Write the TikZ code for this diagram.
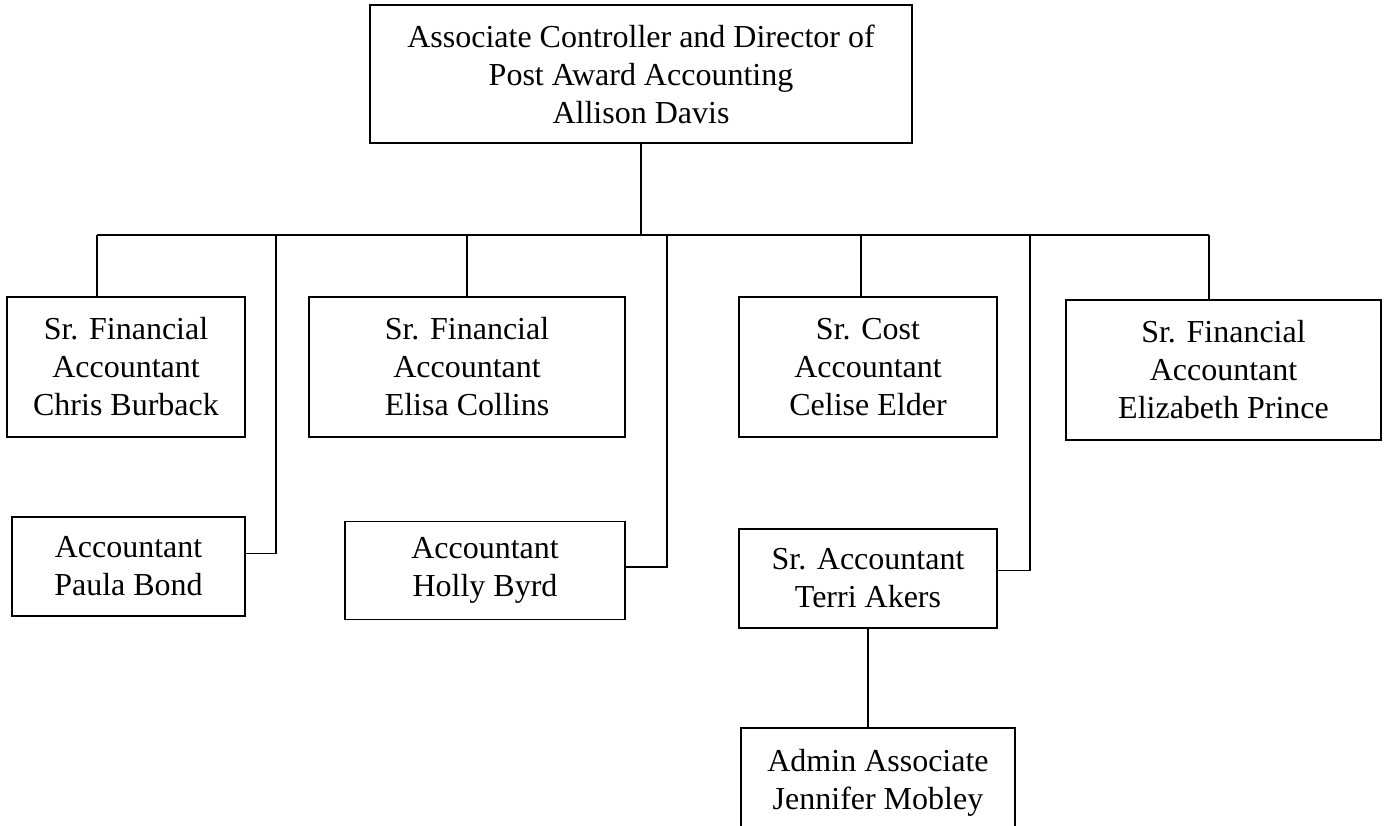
\documentclass[tikz,border=0pt]{standalone}
\usepackage{fontspec}
\setmainfont{Liberation Serif}
\usetikzlibrary{positioning}
\tikzset{
  every node/.style={font=\fontsize{32}{38}\selectfont},
  post/.style={draw, line width=1.2pt, align=center, inner sep=0pt},
  link/.style={line width=1.2pt},
}

\begin{document}
\begin{tikzpicture}[x=1pt, y=-1pt]
    \useasboundingbox (0,0) rectangle (1391,826);

    % boxes
    \node[post, minimum width=542, minimum height=138] (director) at (641,74)
        {Associate Controller and Director of\\Post Award Accounting\\Allison Davis};
    \node[post, minimum width=238, minimum height=140] (burback) at (126,367)
        {Sr. Financial\\Accountant\\Chris Burback};
    \node[post, minimum width=233, minimum height=99] (bond) at (128.5,566.5)
        {Accountant\\Paula Bond};
    \node[post, minimum width=316, minimum height=140] (collins) at (467,367)
        {Sr. Financial\\Accountant\\Elisa Collins};
    \node[post, minimum width=280, minimum height=98] (byrd) at (485,570.5)
        {Accountant\\Holly Byrd};
    \node[post, minimum width=258, minimum height=140] (elder) at (868,367)
        {Sr. Cost\\Accountant\\Celise Elder};
    \node[post, minimum width=258, minimum height=99] (akers) at (868,578.5)
        {Sr. Accountant\\Terri Akers};
    \node[post, minimum width=315, minimum height=140] (prince) at (1223.5,370)
        {Sr. Financial\\Accountant\\Elizabeth Prince};
    \node[post, minimum width=274, minimum height=110] (mobley) at (878,783)
        {Admin Associate\\Jennifer Mobley};

    % bus taps
    \coordinate (tapBurback) at (97,235);
    \coordinate (tapBond) at (276,235);
    \coordinate (tapCollins) at (467,235);
    \coordinate (tapByrd) at (667,235);
    \coordinate (tapElder) at (861,235);
    \coordinate (tapAkers) at (1030,235);
    \coordinate (tapPrince) at (1209,235);

    % lines
    \draw[link] (tapBurback) -- (tapPrince);
    \draw[link] (director.south) -- (director.south |- tapBurback);
    \draw[link] (tapBurback) -- (tapBurback |- burback.north)
                (tapCollins) -- (tapCollins |- collins.north)
                (tapElder) -- (tapElder |- elder.north)
                (tapPrince) -- (tapPrince |- prince.north);
    \draw[link] (tapBond) |- ([yshift=13]bond.east);
    \draw[link] (tapByrd) |- ([yshift=3.5]byrd.east);
    \draw[link] (tapAkers) |- ([yshift=8]akers.east);
    \draw[link] (akers.south) -- (akers.south |- mobley.north);

\end{tikzpicture}
\end{document}
